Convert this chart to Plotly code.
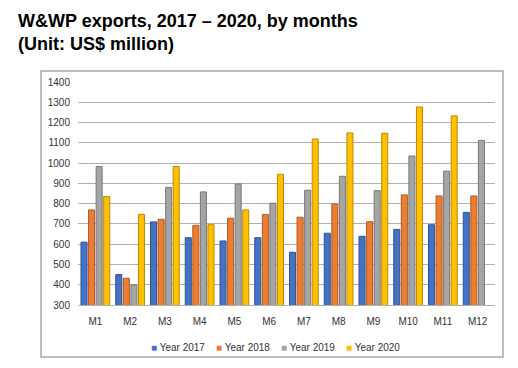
import plotly.graph_objects as go

months = ["M1", "M2", "M3", "M4", "M5", "M6", "M7", "M8", "M9", "M10", "M11", "M12"]
y2017 = [610, 450, 710, 632, 616, 632, 560, 654, 639, 673, 696, 757]
y2018 = [769, 432, 723, 693, 728, 747, 733, 798, 711, 843, 838, 838]
y2019 = [983, 399, 880, 858, 897, 802, 866, 935, 864, 1035, 960, 1112]
y2020 = [835, 747, 983, 696, 769, 945, 1119, 1149, 1147, 1277, 1233, None]

series = [
    ("Year 2017", y2017, "#4472C4", "#2F528F"),
    ("Year 2018", y2018, "#ED7D31", "#AE5A21"),
    ("Year 2019", y2019, "#A5A5A5", "#787878"),
    ("Year 2020", y2020, "#FFC000", "#BC8C00"),
]

fig = go.Figure()
for name, vals, col, edge in series:
    fig.add_trace(go.Bar(
        x=months, y=vals, name=name, showlegend=False,
        marker=dict(color=col, line=dict(color=edge, width=1)),
    ))

# page body offsets the figure by 8px; target coordinates are shifted accordingly
OFF = 8
W, H = 518 - OFF, 368 - OFF
L, R, T, B = 78 - OFF, 495 - OFF, 82 - OFF, 305 - OFF
pw, ph = R - L, B - T

def px(x):
    return (x - OFF - L) / pw

def py(y):
    return (B - (y - OFF)) / ph

legend_text = "&nbsp;&nbsp;&nbsp;&nbsp;".join(
    f"<span style='color:{col}'>■</span> {name}" for name, _, col, _ in series
)

fig.update_layout(
    width=W, height=H,
    margin=dict(l=L, r=W - R, t=T, b=H - B),
    paper_bgcolor="white", plot_bgcolor="white",
    barmode="group", bargap=0.13, bargroupgap=0.2,
    font=dict(family="Liberation Sans, Arial, sans-serif", size=10, color="#333333"),
    annotations=[
        dict(
            text="<b>W&WP exports, 2017 – 2020, by months<br>(Unit: US$ million)</b>",
            xref="paper", yref="paper", x=px(16), y=py(9),
            xanchor="left", yanchor="top", align="left", showarrow=False,
            font=dict(family="Liberation Sans, Arial, sans-serif", size=18, color="black"),
        ),
        dict(
            text=legend_text,
            xref="paper", yref="paper", x=px(275), y=py(347),
            xanchor="center", yanchor="middle", showarrow=False,
            font=dict(size=10, color="#333333"),
        ),
    ],
    shapes=[dict(
        type="rect", xref="paper", yref="paper",
        x0=px(41), x1=px(503), y0=py(357), y1=py(71),
        line=dict(color="#A6A6A6", width=1.5), fillcolor="rgba(0,0,0,0)", layer="above",
    )],
)
fig.update_yaxes(
    range=[300, 1400], dtick=100, tick0=300,
    showgrid=True, gridcolor="#B0B0B0", gridwidth=1,
    zeroline=False, showline=False, ticks="", ticklabelstandoff=7,
    tickfont=dict(size=10, color="#333333"),
)
fig.update_xaxes(
    showline=True, linecolor="#B0B0B0", linewidth=1, ticks="", ticklabelstandoff=7,
    tickfont=dict(size=10, color="#333333"),
)

fig.write_html("out.html")
